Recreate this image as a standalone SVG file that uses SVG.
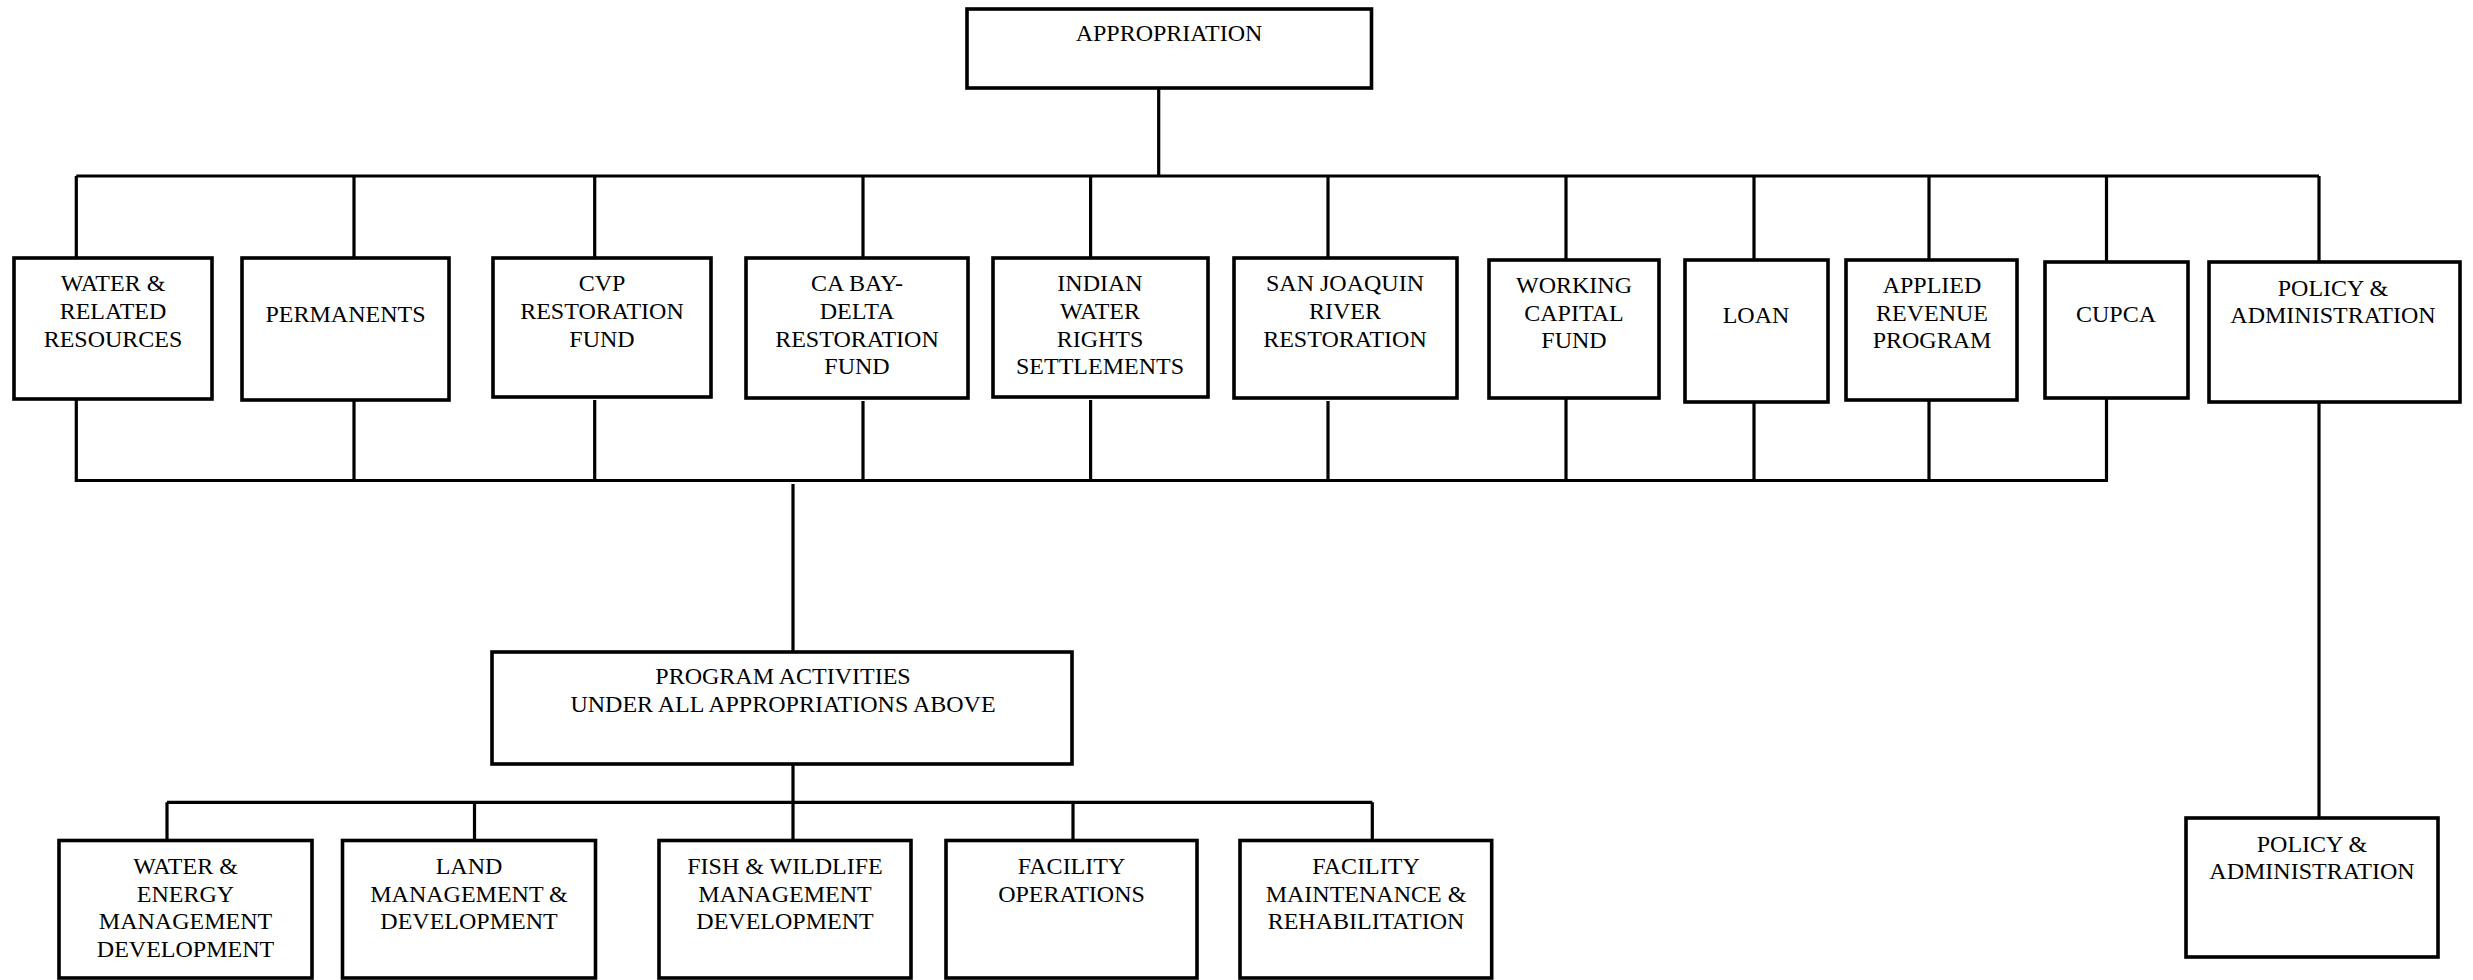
<svg xmlns="http://www.w3.org/2000/svg" width="2473" height="980" viewBox="0 0 2473 980">
<style>
.box{fill:#fff;stroke:#000;stroke-width:3.6}
.c{fill:none;stroke:#000;stroke-width:3.2;stroke-linecap:butt}
.t text{font-family:'Liberation Serif','Times New Roman',Tinos,Times,serif;font-size:24px;fill:#000;text-anchor:middle}
</style>
<rect width="2473" height="980" fill="#fff"/>
<g id="connectors">
<path class="c" d="M1158.7 88V176M76.3 176H2319"/>
<path class="c" d="M76.3 176V258M354 176V258M594.7 176V258M863 176V258M1090.6 176V258M1328 176V258M1566 176V260M1754 176V260M1929 176V260M2106.5 176V262M2319 176V262"/>
<path class="c" d="M76.3 399V480.5M354 400V480.5M594.7 400V480.5M863 401V480.5M1090.6 400V480.5M1328 401V480.5M1566 398V480.5M1754 402V480.5M1929 400V480.5M2106.5 398V480.5M74.7 480.5H2108"/>
<path class="c" d="M793 484V652M793 764V802.3M167 802.3H1372.3M167 802.3V840.5M474.5 802.3V840.5M793 802.3V840.5M1073 802.3V840.5M1372.3 802.3V840.5"/>
<path class="c" d="M2319 402V818"/>
</g>
<g class="t" font-family="'Liberation Serif','Times New Roman',serif">
<g id="appropriation"><rect class="box" x="967" y="9" width="404.5" height="79"/><text x="1169" y="40.7">APPROPRIATION</text></g>
<g id="water-related-resources"><rect class="box" x="14" y="258" width="198" height="141"/><text x="113" y="291">WATER &amp;</text><text x="113" y="319">RELATED</text><text x="113" y="346.7">RESOURCES</text></g>
<g id="permanents"><rect class="box" x="242" y="258" width="207" height="142"/><text x="345.5" y="321.7">PERMANENTS</text></g>
<g id="cvp-restoration-fund"><rect class="box" x="493" y="258" width="218" height="139"/><text x="602" y="291">CVP</text><text x="602" y="319">RESTORATION</text><text x="602" y="346.7">FUND</text></g>
<g id="ca-bay-delta"><rect class="box" x="746" y="258" width="222" height="140"/><text x="857" y="291">CA BAY-</text><text x="857" y="319">DELTA</text><text x="857" y="346.7">RESTORATION</text><text x="857" y="374.3">FUND</text></g>
<g id="indian-water-rights"><rect class="box" x="993" y="258" width="215" height="139"/><text x="1100" y="291">INDIAN</text><text x="1100" y="319">WATER</text><text x="1100" y="346.7">RIGHTS</text><text x="1100" y="374.3">SETTLEMENTS</text></g>
<g id="san-joaquin"><rect class="box" x="1234" y="258" width="223" height="140"/><text x="1345" y="291">SAN JOAQUIN</text><text x="1345" y="319">RIVER</text><text x="1345" y="346.7">RESTORATION</text></g>
<g id="working-capital-fund"><rect class="box" x="1489" y="260" width="170" height="138"/><text x="1574" y="293.3">WORKING</text><text x="1574" y="321">CAPITAL</text><text x="1574" y="348.3">FUND</text></g>
<g id="loan"><rect class="box" x="1685" y="260" width="143" height="142"/><text x="1756" y="323.3">LOAN</text></g>
<g id="applied-revenue"><rect class="box" x="1846" y="260" width="171" height="140"/><text x="1932" y="293.3">APPLIED</text><text x="1932" y="321">REVENUE</text><text x="1932" y="348.3">PROGRAM</text></g>
<g id="cupca"><rect class="box" x="2045" y="262" width="143" height="136"/><text x="2116" y="322.3">CUPCA</text></g>
<g id="policy-admin-top"><rect class="box" x="2209" y="262" width="251" height="140"/><text x="2333" y="296">POLICY &amp;</text><text x="2333" y="323.3">ADMINISTRATION</text></g>
<g id="program-activities"><rect class="box" x="492" y="652" width="580" height="112"/><text x="783" y="684">PROGRAM ACTIVITIES</text><text x="783" y="711.7">UNDER ALL APPROPRIATIONS ABOVE</text></g>
<g id="water-energy"><rect class="box" x="59" y="840.5" width="253" height="137.5"/><text x="185.5" y="874">WATER &amp;</text><text x="185.5" y="901.7">ENERGY</text><text x="185.5" y="929.3">MANAGEMENT</text><text x="185.5" y="956.7">DEVELOPMENT</text></g>
<g id="land-management"><rect class="box" x="342.5" y="840.5" width="253" height="137.5"/><text x="469" y="874">LAND</text><text x="469" y="901.7">MANAGEMENT &amp;</text><text x="469" y="929.3">DEVELOPMENT</text></g>
<g id="fish-wildlife"><rect class="box" x="659" y="840.5" width="252" height="137.5"/><text x="785" y="874">FISH &amp; WILDLIFE</text><text x="785" y="901.7">MANAGEMENT</text><text x="785" y="929.3">DEVELOPMENT</text></g>
<g id="facility-operations"><rect class="box" x="946" y="840.5" width="251" height="137.5"/><text x="1071.5" y="874">FACILITY</text><text x="1071.5" y="901.7">OPERATIONS</text></g>
<g id="facility-maintenance"><rect class="box" x="1240" y="840.5" width="251.7" height="137.5"/><text x="1366" y="874">FACILITY</text><text x="1366" y="901.7">MAINTENANCE &amp;</text><text x="1366" y="929.3">REHABILITATION</text></g>
<g id="policy-admin-bottom"><rect class="box" x="2186" y="818" width="252" height="139"/><text x="2312" y="851.7">POLICY &amp;</text><text x="2312" y="879">ADMINISTRATION</text></g>
</g>
</svg>
